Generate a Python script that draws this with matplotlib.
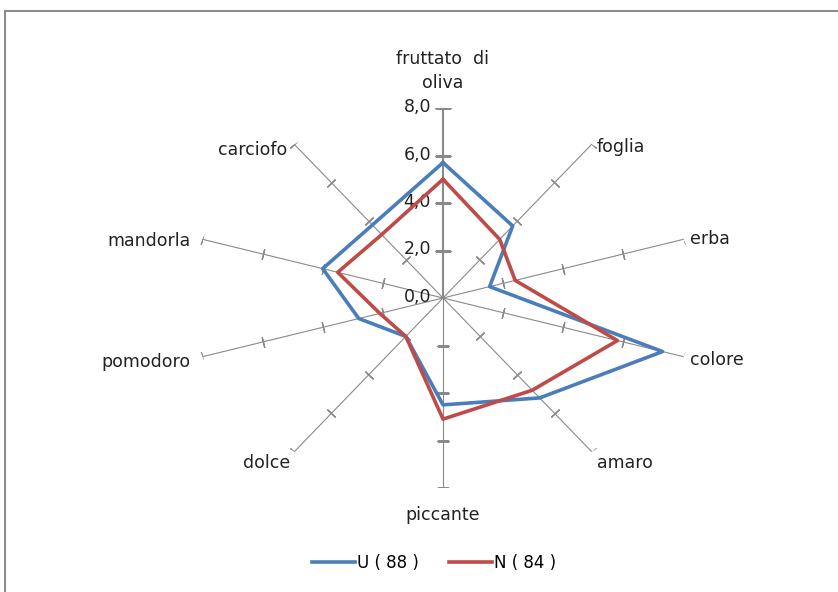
import numpy as np
import matplotlib
matplotlib.use("Agg")
import matplotlib.pyplot as plt
from matplotlib.patches import Rectangle

categories = ['fruttato  di\noliva', 'foglia', 'erba', 'colore', 'amaro',
              'piccante', 'dolce', 'pomodoro', 'mandorla', 'carciofo']
u_values = [5.7, 3.75, 1.55, 7.3, 5.2, 4.5, 2.0, 2.8, 4.0, 3.8]
n_values = [5.0, 3.05, 2.4, 5.8, 4.8, 5.1, 2.0, 2.1, 3.5, 3.3]
series_names = ['U ( 88 )', 'N ( 84 )']
r_ticks = [0, 2, 4, 6, 8]
r_tick_labels = ['0,0', '2,0', '4,0', '6,0', '8,0']

plt.rcParams['font.family'] = ['DejaVu Sans']

W, H = 838, 592
fig = plt.figure(figsize=(W / 100, H / 100), dpi=100)

# plot box: center (443, 298) px, radius 253 px horizontally, 190 px vertically
cx, cy, rx, ry = 443, 298, 253, 190
ax = fig.add_axes([(cx - rx) / W, (H - cy - ry) / H, 2 * rx / W, 2 * ry / H],
                  projection='polar')
ax.set_aspect('auto')
ax.set_theta_zero_location('N')
ax.set_theta_direction(-1)
ax.set_ylim(0, 8)
ax.grid(False)
ax.set_xticks([])
ax.set_yticks([])
ax.spines['polar'].set_visible(False)
ax.patch.set_alpha(0)

n_cat = len(categories)
angles = np.arange(n_cat) * 2 * np.pi / n_cat
stretch = rx / ry

# spokes and tick marks
for i, th in enumerate(angles):
    lw = 1.5 if i == 0 else 0.8
    ms = 12 if i == 0 else 8
    ax.plot([th, th], [0, 8], color='#8a8a8a', lw=lw, zorder=1)
    phi = np.degrees(np.arctan2(np.cos(th), stretch * np.sin(th)))
    ax.plot([th] * 4, r_ticks[1:], ls='none', marker=(2, 2, phi),
            ms=ms, mew=0.9, mec='#8a8a8a', zorder=1)

# tick labels on the vertical axis
for r, lab in zip(r_ticks, r_tick_labels):
    ax.annotate(lab, (0, r), xytext=(-12, 1), textcoords='offset pixels',
                ha='right', va='center', fontsize=12.5, color='#222222')

# category labels
offsets = [(0, 16), (5, -3), (6, 0), (6, -3), (5, -11),
           (0, -18), (-4, -11), (-12, -5), (-12, -2), (-7, -6)]
for th, lab, off in zip(angles, categories, offsets):
    s = np.sin(th)
    if abs(s) < 0.1:
        ha = 'center'
        va = 'bottom' if np.cos(th) > 0 else 'top'
    else:
        ha = 'left' if s > 0 else 'right'
        va = 'center'
    ax.annotate(lab, (th, 8), xytext=off, textcoords='offset pixels',
                ha=ha, va=va, fontsize=12.5, color='#222222',
                linespacing=1.45, annotation_clip=False)

th_closed = np.append(angles, angles[0])
ax.plot(th_closed, u_values + u_values[:1], color='#4A7EBB', lw=2.6,
        label=series_names[0], zorder=3)
ax.plot(th_closed, n_values + n_values[:1], color='#BE4B48', lw=2.6,
        label=series_names[1], zorder=3)

fig.legend(loc='center', bbox_to_anchor=(434 / W, 1 - 563 / H), ncol=2,
           frameon=False, fontsize=12, handlelength=2.6, handletextpad=0.1,
           columnspacing=1.8)

# chart area border (cut off at right and bottom)
fig.add_artist(Rectangle((5 / W, -0.05), 1.2, 1 - 11 / H + 0.05,
                         transform=fig.transFigure, fill=False,
                         ec='#8c8c8c', lw=1.5))

fig.savefig('out.png', dpi=100)
